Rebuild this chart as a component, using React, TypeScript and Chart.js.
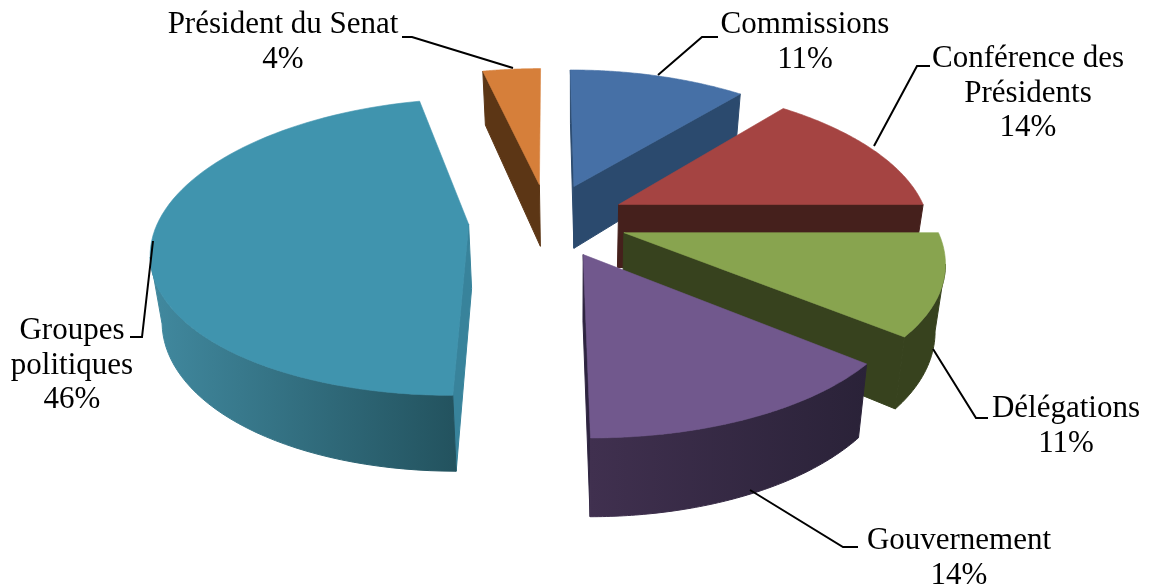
import React, { useEffect, useRef } from "react";
import { Chart, registerables } from "chart.js";

Chart.register(...registerables);

// Data
const categories = ["Commissions", "Conférence des\nPrésidents", "Délégations", "Gouvernement", "Groupes\npolitiques", "Président du Senat"];
const shares = [11, 14, 11, 14, 46.4, 3.6];

// Colours
const topColors = ["#4670A6", "#A54442", "#88A44F", "#71588D", "#4094AE", "#D67F3A"];
const radialWallColors = ["#2B4A6E", "#45201C", "#37421E", "#2E2440", "#38839B", "#5C3615"];
const outerWallStart = ["#2B4A6E", "#45201C", "#37421E", "#40304F", "#41899F", "#5C3615"];
const outerWallEnd = ["#2B4A6E", "#45201C", "#37421E", "#2A2238", "#23535F", "#5C3615"];

// Label layout: centre x, centre y of first line
const labelX = [805, 1028, 1066, 959, 72, 283];
const labelY = [25, 59, 409, 541, 331, 25];
const leaders: number[][][] = [
  [[718, 37], [702, 37], [658, 75]],
  [[930, 66], [917, 66], [874, 146]],
  [[988, 418], [976, 418], [933, 349]],
  [[858, 547], [843, 547], [750, 490]],
  [[130, 337], [142, 337], [153, 241]],
  [[402, 37], [412, 37], [513, 68]],
];

// Camera
const CX = 548;
const CY = 220;
const SQUASH = 0.4636;
const PERSP_Y = 0.000491;
const PERSP_X = 0.000535;
const PLANE_RADIUS = 310;
const EXPLODE = 79.5;
const DEPTH = 64;
const LOW_SHRINK = 0.972;
const LOW_CENTER = 575;
const FONT = '31px "Liberation Serif"';
const LINE_H = 34.5;

function project(X: number, Y: number): [number, number] {
  return [CX + X / (1 - PERSP_X * Y), CY + (SQUASH * Y) / (1 - PERSP_Y * Y)];
}
function drop(p: [number, number], Y: number): [number, number] {
  return [LOW_CENTER + (p[0] - LOW_CENTER) * LOW_SHRINK, p[1] + DEPTH / (1 - PERSP_Y * Y)];
}
function fillPoly(ctx: CanvasRenderingContext2D, pts: [number, number][], fill: string | CanvasGradient, seam = 0.6) {
  ctx.beginPath();
  pts.forEach((p, i) => (i ? ctx.lineTo(p[0], p[1]) : ctx.moveTo(p[0], p[1])));
  ctx.closePath();
  ctx.fillStyle = fill;
  ctx.fill();
  ctx.strokeStyle = fill;
  ctx.lineWidth = seam;
  ctx.stroke();
}

const pie3d = {
  id: "pie3d",
  beforeDatasetDraw(chart: any) {
    const ctx: CanvasRenderingContext2D = chart.ctx;
    const arcs: any[] = chart.getDatasetMeta(0).data;
    const order = arcs
      .map((_, i) => i)
      .sort((a, b) => {
        const m = (e: any) => Math.sin((e.startAngle + e.endAngle) / 2);
        return m(arcs[a]) - m(arcs[b]);
      });
    ctx.save();
    order.forEach((i) => {
      const arc = arcs[i];
      const mid = (arc.startAngle + arc.endAngle) / 2;
      const ax = Math.cos(mid) * EXPLODE;
      const ay = Math.sin(mid) * EXPLODE;
      const apex = project(ax, ay);
      const apexLow = drop(apex, ay);
      const N = 80;
      const top: [number, number][] = [];
      const low: [number, number][] = [];
      for (let j = 0; j <= N; j++) {
        const a = arc.startAngle + ((arc.endAngle - arc.startAngle) * j) / N;
        const X = ax + Math.cos(a) * PLANE_RADIUS;
        const Y = ay + Math.sin(a) * PLANE_RADIUS;
        const p = project(X, Y);
        top.push(p);
        low.push(drop(p, Y));
      }
      // radial walls facing the viewer
      const s = top[0];
      const e = top[N];
      if (s[0] - apex[0] < -3) {
        fillPoly(ctx, [apex, s, low[0], apexLow], radialWallColors[i], 1);
      }
      if (e[0] - apex[0] > 3) {
        fillPoly(ctx, [apex, e, low[N], apexLow], radialWallColors[i], 1);
      }
      // outer wall: the part of the rim running right-to-left on screen
      let first = -1;
      let last = -1;
      for (let j = 0; j < N; j++) {
        if (top[j + 1][0] < top[j][0] && Math.sin(arc.startAngle + ((arc.endAngle - arc.startAngle) * (j + 0.5)) / N) > -0.05) {
          if (first < 0) first = j;
          last = j + 1;
        }
      }
      if (first >= 0) {
        const poly = [...top.slice(first, last + 1), ...low.slice(first, last + 1).reverse()];
        const g = ctx.createLinearGradient(top[last][0], 0, top[first][0], 0);
        g.addColorStop(0, outerWallStart[i]);
        g.addColorStop(1, outerWallEnd[i]);
        fillPoly(ctx, poly, g, 1);
      }
      fillPoly(ctx, [apex, ...top], topColors[i]);
    });
    ctx.restore();
    return false;
  },
  afterDraw(chart: any) {
    const ctx: CanvasRenderingContext2D = chart.ctx;
    ctx.save();
    ctx.strokeStyle = "#000";
    ctx.lineWidth = 2;
    leaders.forEach((l) => {
      ctx.beginPath();
      l.forEach((p, i) => (i ? ctx.lineTo(p[0], p[1]) : ctx.moveTo(p[0], p[1])));
      ctx.stroke();
    });
    ctx.fillStyle = "#000";
    ctx.font = FONT;
    ctx.textAlign = "center";
    ctx.textBaseline = "middle";
    categories.forEach((c, i) => {
      const lines = [...c.split("\n"), `${Math.round(shares[i])}%`];
      lines.forEach((t, j) => ctx.fillText(t, labelX[i], labelY[i] + j * LINE_H));
    });
    ctx.restore();
  },
};

export default function App() {
  const ref = useRef<HTMLCanvasElement>(null);
  useEffect(() => {
    const chart = new Chart(ref.current!, {
      type: "pie",
      data: {
        labels: categories,
        datasets: [{ data: shares, backgroundColor: topColors, borderWidth: 0 }],
      },
      options: {
        animation: false,
        responsive: false,
        layout: { padding: 0 },
        plugins: { legend: { display: false }, tooltip: { enabled: false } },
      } as any,
      plugins: [pie3d as any],
    });
    return () => chart.destroy();
  }, []);
  return (
    <canvas
      ref={ref}
      width={1154}
      height={587}
      style={{ position: "fixed", left: 0, top: 0, display: "block" }}
    />
  );
}
